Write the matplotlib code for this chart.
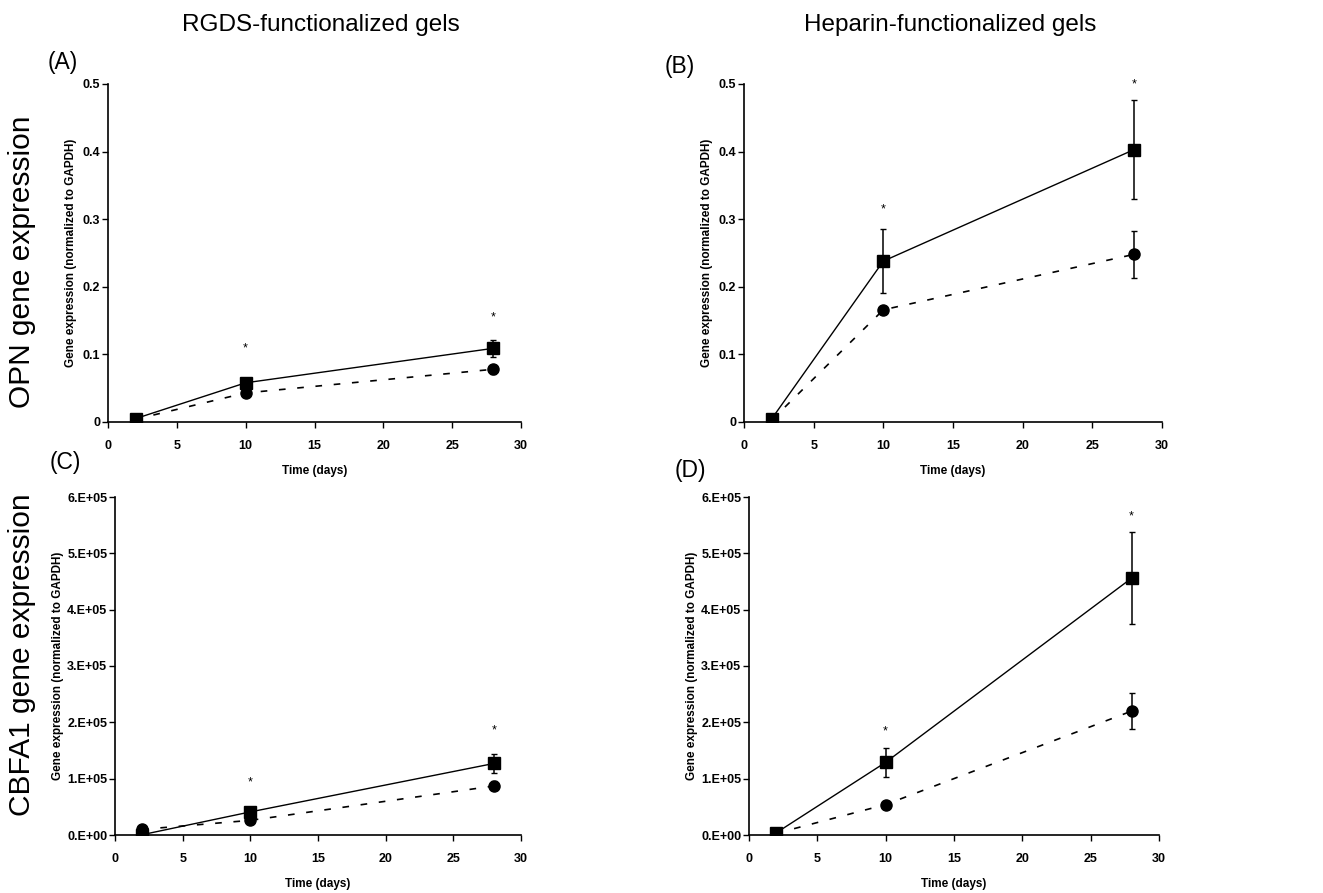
import matplotlib
matplotlib.use("Agg")
import matplotlib.pyplot as plt
from matplotlib.ticker import FuncFormatter
from matplotlib.font_manager import FontProperties

plt.rcParams['font.family'] = ['Liberation Sans', 'DejaVu Sans']

days = [2, 10, 28]

# Panel A: OPN, RGDS gels
a_sq = [0.005, 0.058, 0.109]
a_sq_err = [0.002, 0.006, 0.013]
a_ci = [0.004, 0.043, 0.078]
a_ci_err = [0.002, 0.005, 0.007]
a_star = [0.109, 0.155]

# Panel B: OPN, Heparin gels
b_sq = [0.005, 0.238, 0.403]
b_sq_err = [0.002, 0.047, 0.073]
b_ci = [0.003, 0.166, 0.248]
b_ci_err = [0.002, 0.006, 0.035]
b_star = [0.315, 0.499]

# Panel C: CBFA1, RGDS gels
c_sq = [0.005e5, 0.41e5, 1.27e5]
c_sq_err = [0.02e5, 0.06e5, 0.17e5]
c_ci = [0.10e5, 0.26e5, 0.87e5]
c_ci_err = [0.03e5, 0.04e5, 0.08e5]
c_star = [0.94e5, 1.86e5]

# Panel D: CBFA1, Heparin gels
d_sq = [0.04e5, 1.29e5, 4.56e5]
d_sq_err = [0.01e5, 0.26e5, 0.82e5]
d_ci = [0.03e5, 0.54e5, 2.20e5]
d_ci_err = [0.01e5, 0.03e5, 0.32e5]
d_star = [1.83e5, 5.65e5]

col_titles = ["RGDS-functionalized gels", "Heparin-functionalized gels"]
row_titles = ["OPN gene expression", "CBFA1 gene expression"]
panel_letters = ["(A)", "(B)", "(C)", "(D)"]

fig = plt.figure(figsize=(13.23, 8.93), dpi=100)

W, H = 1323, 893
def pos(l, r, t, b):
    return [l / W, 1 - b / H, (r - l) / W, (b - t) / H]

axes_px = [(108, 521, 84, 422), (744, 1162, 84, 422),
           (115, 521, 497, 835), (749, 1159, 497, 835)]

panels = [
    (a_sq, a_sq_err, a_ci, a_ci_err, a_star, 0.5, 0.1, False),
    (b_sq, b_sq_err, b_ci, b_ci_err, b_star, 0.5, 0.1, False),
    (c_sq, c_sq_err, c_ci, c_ci_err, c_star, 6e5, 1e5, True),
    (d_sq, d_sq_err, d_ci, d_ci_err, d_star, 6e5, 1e5, True),
]

tick_fp = FontProperties(family=['Liberation Sans', 'DejaVu Sans'], weight='bold', size=9)

def sci_fmt(v, p):
    return "%d.E+05" % int(round(v / 1e5)) if v != 0 else "0.E+00"

def dec_fmt(v, p):
    if abs(v) < 1e-9:
        return "0"
    return "%.1f" % v

for i, (px, pdata) in enumerate(zip(axes_px, panels)):
    sq, sqe, ci, cie, star, ymax, ystep, sci = pdata
    ax = fig.add_axes(pos(*px))
    ax.errorbar(days, ci, yerr=cie, color='black', linestyle=(0, (4, 7)), lw=1.2,
                marker='o', markersize=8, capsize=2.5, elinewidth=1.1, zorder=2)
    ax.errorbar(days, sq, yerr=sqe, color='black', linestyle='-', lw=1.0,
                marker='s', markersize=8, capsize=2.5, elinewidth=1.1, zorder=3)
    for xd, ys in zip(days[1:], star):
        ax.text(xd, ys, "*", ha='center', va='center', fontsize=9)
    ax.set_xlim(0, 30)
    ax.set_ylim(0, ymax)
    ax.set_xticks(range(0, 31, 5))
    ax.set_yticks([k * ystep for k in range(int(round(ymax / ystep)) + 1)])
    ax.yaxis.set_major_formatter(FuncFormatter(sci_fmt if sci else dec_fmt))
    for s in ['top', 'right']:
        ax.spines[s].set_visible(False)
    for s in ['left', 'bottom']:
        ax.spines[s].set_linewidth(1.2)
    ax.tick_params(direction='out', length=4, width=1.0)
    ax.tick_params(axis='x', pad=9)
    ax.tick_params(axis='y', pad=1.5)
    for lab in ax.get_xticklabels() + ax.get_yticklabels():
        lab.set_fontproperties(tick_fp)
    ylab = "Gene expression (normalized to GAPDH)"
    ax.set_ylabel(ylab, fontsize=8.5, fontweight='bold', labelpad=4 if not sci else 2)
    ax.set_xlabel("Time (days)", fontsize=8.5, fontweight='bold', labelpad=9)

# Column titles
fig.text(321 / W, 1 - 25 / H, col_titles[0], ha='center', va='center', fontsize=17.5)
fig.text(950 / W, 1 - 25 / H, col_titles[1], ha='center', va='center', fontsize=17.5)
# Row titles
fig.text(22 / W, 1 - 262 / H, row_titles[0], ha='center', va='center', rotation=90, fontsize=21.5)
fig.text(22 / W, 1 - 655 / H, row_titles[1], ha='center', va='center', rotation=90, fontsize=21.5)
# Panel letters
letter_pos = [(63, 62), (680, 66), (65, 463), (690, 470)]
for lt, (lx, ly) in zip(panel_letters, letter_pos):
    fig.text(lx / W, 1 - ly / H, lt, ha='center', va='center', fontsize=16.5)

fig.savefig("out.png", dpi=100)
